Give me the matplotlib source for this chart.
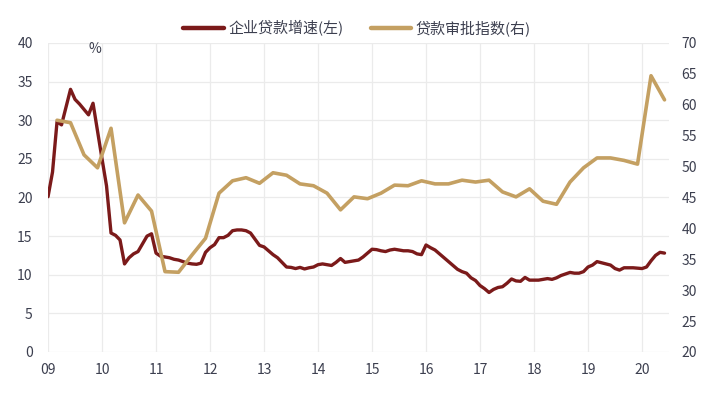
import numpy as np
import matplotlib
matplotlib.use("Agg")
from matplotlib import pyplot as plt

plt.rcParams['font.family'] = ['Noto Sans CJK SC', 'DejaVu Sans']

# 企业贷款增速, monthly, 2009-01 .. 2020-06 (left axis, %)
loan_growth = [
    20.1, 23.3, 29.8, 29.4, 31.7, 34.0, 32.7, 32.1, 31.4, 30.7, 32.2, 28.6,   # 09
    25.0, 21.5, 15.4, 15.1, 14.5, 11.4, 12.2, 12.7, 13.0, 14.0, 15.0, 15.3,   # 10
    12.8, 12.4, 12.3, 12.2, 12.0, 11.9, 11.7, 11.5, 11.4, 11.35, 11.5, 12.9,  # 11
    13.5, 13.9, 14.8, 14.8, 15.1, 15.7, 15.8, 15.8, 15.7, 15.4, 14.6, 13.8,   # 12
    13.6, 13.1, 12.6, 12.2, 11.6, 11.0, 10.95, 10.8, 10.95, 10.75, 10.9, 11.0,  # 13
    11.3, 11.4, 11.3, 11.2, 11.6, 12.1, 11.6, 11.7, 11.8, 11.9, 12.3, 12.8,   # 14
    13.3, 13.25, 13.1, 13.0, 13.2, 13.3, 13.2, 13.1, 13.1, 13.0, 12.7, 12.6,  # 15
    13.85, 13.5, 13.2, 12.7, 12.2, 11.7, 11.2, 10.7, 10.4, 10.2, 9.6, 9.25,   # 16
    8.6, 8.2, 7.7, 8.1, 8.35, 8.45, 8.9, 9.45, 9.2, 9.15, 9.65, 9.3,          # 17
    9.3, 9.3, 9.4, 9.5, 9.4, 9.6, 9.9, 10.1, 10.3, 10.2, 10.2, 10.4,          # 18
    11.0, 11.25, 11.7, 11.55, 11.4, 11.25, 10.8, 10.6, 10.9, 10.9, 10.9, 10.85,  # 19
    10.8, 11.0, 11.8, 12.5, 12.9, 12.8,                                       # 20
]

# 贷款审批指数, quarterly (quarter-end months), 2009Q1 .. 2020Q2 (right axis)
approval_index = [
    57.5, 57.1, 51.9, 49.8,
    56.2, 40.9, 45.4, 42.8,
    33.0, 32.9, 35.7, 38.4,
    45.7, 47.7, 48.2, 47.3,
    49.0, 48.6, 47.2, 46.9,
    45.7, 43.0, 45.1, 44.8,
    45.7, 47.0, 46.9, 47.7,
    47.2, 47.2, 47.8, 47.5,
    47.8, 45.9, 45.1, 46.4,
    44.4, 43.9, 47.5, 49.8,
    51.4, 51.4, 51.0, 50.4,
    64.7, 60.8,
]

year_labels = ['09', '10', '11', '12', '13', '14', '15', '16', '17', '18', '19', '20']
left_label = '企业贷款增速(左)'
right_label = '贷款审批指数(右)'

red = '#7B1A1A'
tan = '#C4A062'
text_col = '#3C3F4F'
grid_col = '#EBEBEB'

month_x = np.arange(len(loan_growth))
quarter_x = np.arange(len(approval_index)) * 3 + 2

fig = plt.figure(figsize=(7.2, 3.97), dpi=100)
ax = fig.add_axes([0.0667, 0.1134, 0.8625, 0.7783])
ax2 = ax.twinx()

l1, = ax.plot(month_x, loan_growth, color=red, lw=2.4, label=left_label, solid_capstyle='round')
l2, = ax2.plot(quarter_x, approval_index, color=tan, lw=2.6, label=right_label, solid_capstyle='round')

ax.set_xlim(0, 138)
ax.set_ylim(0, 40)
ax.set_yticks(np.arange(0, 41, 5))
ax2.set_ylim(20, 70)
ax2.set_yticks(np.arange(20, 71, 5))
ax.set_xticks(np.arange(len(year_labels)) * 12)
ax.set_xticklabels(year_labels)

ax.grid(True, color=grid_col, lw=0.9)
ax.set_axisbelow(True)
for a in (ax, ax2):
    for s in a.spines.values():
        s.set_visible(False)
    a.tick_params(length=0, labelsize=10, colors=text_col)
ax.tick_params(axis='y', pad=11)
ax.tick_params(axis='x', pad=8)
ax2.tick_params(axis='y', pad=9)

ax.text(10.4, 39.2, '%', ha='center', va='center', fontsize=10, color=text_col)

leg = fig.legend(handles=[l1, l2], loc='center', bbox_to_anchor=(0.496, 0.93), ncol=2,
                 frameon=False, fontsize=10.8, handlelength=2.7, handletextpad=0.3,
                 columnspacing=1.8, labelcolor=text_col)
for h in leg.legend_handles:
    h.set_linewidth(3.2)

fig.savefig('out.png', dpi=100)
